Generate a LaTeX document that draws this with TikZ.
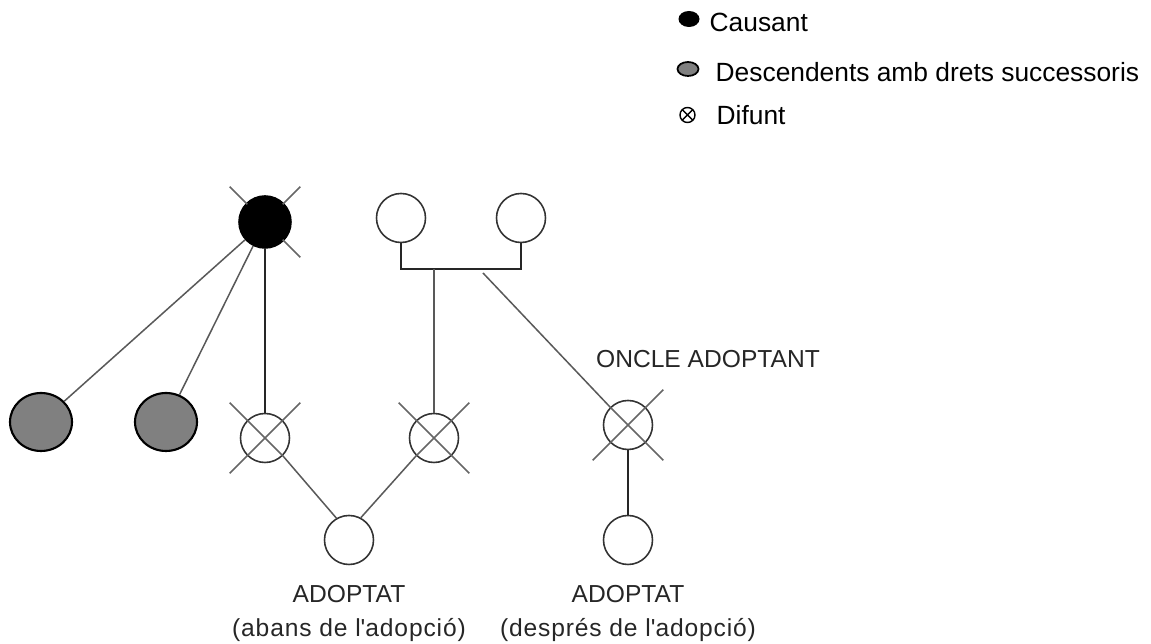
\documentclass[tikz,border=0pt]{standalone}
\usepackage{fontspec}
\setmainfont{Liberation Sans}
\usepackage{tikz}
\usetikzlibrary{calc}
\usetikzlibrary{positioning}
\usetikzlibrary{shapes.geometric}

\begin{document}
\begin{tikzpicture}[
  persona/.style={circle, draw=black!80, line width=0.45pt, fill=white, minimum size=0.49cm, inner sep=0pt},
  causant/.style={persona, draw=black, fill=black, minimum size=0.52cm},
  hereu/.style={ellipse, draw=black, line width=0.6pt, fill=black!50, minimum width=0.62cm, minimum height=0.58cm, inner sep=0pt},
  fil/.style={black!65, line width=0.43pt},
  gruix/.style={black!85, line width=0.6pt},
  creu/.style={black!60, line width=0.43pt},
  rotul/.style={black!85, font=\fontsize{7}{9.7}\selectfont, inner sep=0pt},
  llegenda/.style={font=\fontsize{7.5}{9}\selectfont, anchor=west, inner sep=0pt}
]
\useasboundingbox (0,0) rectangle (11.51,6.44);

% llegenda
\node[ellipse, fill=black, minimum width=0.21cm, minimum height=0.16cm, inner sep=0pt] (lcaus) at (6.89,6.25) {};
\node[ellipse, draw=black, line width=0.5pt, fill=black!50, minimum width=0.21cm, minimum height=0.14cm, inner sep=0pt] (lhereu) at (6.88,5.75) {};
\node[circle, draw=black, line width=0.4pt, minimum size=0.15cm, inner sep=0pt,
  path picture={\draw[line width=0.4pt] (path picture bounding box.north west) -- (path picture bounding box.south east)
    (path picture bounding box.north east) -- (path picture bounding box.south west);}] (ldifunt) at (6.875,5.29) {};
\node[llegenda] (tcaus) at (7.09,6.22) {Causant};
\node[llegenda] (thereu) at (7.15,5.72) {Descendents amb drets successoris};
\node[llegenda] (tdifunt) at (7.16,5.29) {Difunt};

% arbre
\node[causant] (causant) at (2.65,4.22) {};
\node[persona] (avi1) at (4.01,4.26) {};
\node[persona] (avi2) at (5.21,4.26) {};
\node[hereu] (hereu1) at (0.41,2.22) {};
\node[hereu] (hereu2) at (1.66,2.22) {};
\node[persona] (pare) at (2.65,2.06) {};
\node[persona] (mare) at (4.34,2.06) {};
\node[persona] (oncle) at (6.28,2.19) {};
\node[persona] (adoptat1) at (3.49,1.04) {};
\node[persona] (adoptat2) at (6.28,1.04) {};

\coordinate (mig) at (4.34,3.75);
\coordinate (oncleStart) at (4.83,3.71);

% lligams
\draw[gruix] (avi1.south) |- (mig) -| (avi2.south);
\draw[fil] (mig) -- (mare);
\draw[gruix] (causant) -- (pare);
\draw[fil] (hereu1) -- (causant);
\draw[fil] (hereu2) -- (causant);
\draw[fil] (oncleStart) -- (oncle.north west);
\draw[fil] (pare.south east) -- (adoptat1.120);
\draw[fil] (mare.south west) -- (adoptat1.62);
\draw[gruix] (oncle) -- (adoptat2);

% creus dels difunts
\foreach \n in {pare,mare,oncle}
  \draw[creu] (\n.north west) -- (\n.south east) (\n.north east) -- (\n.south west);
\foreach \n/\a in {causant/135,causant/45,causant/-45,pare/135,pare/45,pare/225,
                   mare/135,mare/45,mare/-45,oncle/45,oncle/-45,oncle/225}
  \draw[creu] ($(\n)+(\a:0.25)$) -- ($(\n)+(\a:0.5)$);

% textos
\node[rotul] (toncle) at (7.08,2.85) {ONCLE ADOPTANT};
\node[rotul, align=center, below=0.19cm of adoptat1] (tadop1) {ADOPTAT\\{\addfontfeature{LetterSpace=3.5}(abans de l\textquotesingle adopció)}};
\node[rotul, align=center, below=0.19cm of adoptat2] (tadop2) {ADOPTAT\\{\addfontfeature{LetterSpace=3.5}(després de l\textquotesingle adopció)}};
\end{tikzpicture}
\end{document}
